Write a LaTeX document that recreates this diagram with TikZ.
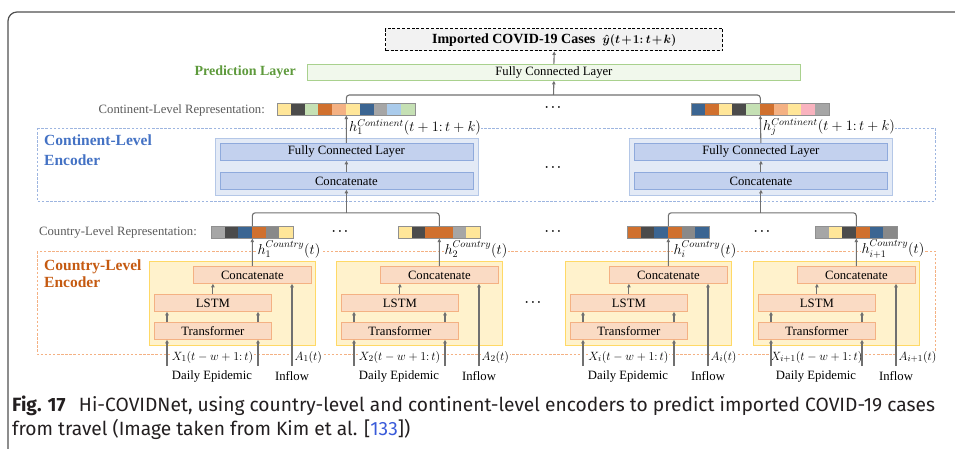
\documentclass[tikz,border=0pt]{standalone}
\usepackage{fontspec}
\setmainfont{Liberation Serif}
\newfontfamily\capfont{Fira Sans}
\usetikzlibrary{arrows.meta,calc}
\definecolor{lgray}{HTML}{707070}
\definecolor{framec}{HTML}{505050}
\definecolor{pgreen}{HTML}{F1F8EC}
\definecolor{pgreenb}{HTML}{A9D18E}
\definecolor{pgtext}{HTML}{5E9A3C}
\definecolor{topfill}{HTML}{F2F2F2}
\definecolor{cbluet}{HTML}{4472C4}
\definecolor{cblued}{HTML}{9DB5E0}
\definecolor{cblkfill}{HTML}{E3EAF6}
\definecolor{cblkdraw}{HTML}{B4C7E7}
\definecolor{cinfill}{HTML}{C3D1EE}
\definecolor{cindraw}{HTML}{8FAADC}
\definecolor{corant}{HTML}{C55A11}
\definecolor{coranged}{HTML}{F4B183}
\definecolor{yblkfill}{HTML}{FFF2CC}
\definecolor{yblkdraw}{HTML}{FFD966}
\definecolor{oinfill}{HTML}{FADBC4}
\definecolor{oindraw}{HTML}{F4B183}
\definecolor{reptext}{HTML}{595959}
\definecolor{bargray}{HTML}{909090}
\definecolor{cY}{HTML}{FFE699}
\definecolor{cDG}{HTML}{4B4B4B}
\definecolor{cLG}{HTML}{C5E0B4}
\definecolor{cO}{HTML}{D0702E}
\definecolor{cLO}{HTML}{F4B183}
\definecolor{cB}{HTML}{3B6592}
\definecolor{cG}{HTML}{A6A6A6}
\definecolor{cGt}{HTML}{898989}
\definecolor{cLB}{HTML}{AACBEB}
\definecolor{cPK}{HTML}{F9B3BF}
\definecolor{linkblue}{HTML}{3A5BD9}
\definecolor{captext}{HTML}{231F20}

\newcommand\mybar[6]{% name, x, y, n, cellwidth, colors
  \foreach \cc [count=\ii from 0] in {#6} {\fill[fill=\cc] (#2+\ii*#5,#3) rectangle ++(#5,12);}
  \pgfmathsetmacro\bw{#4*#5}
  \node[draw=bargray, line width=0.6pt, anchor=north west, inner sep=0, minimum width=\bw pt, minimum height=12pt] (#1) at (#2,#3) {};
}
\newcommand\bdots{{\boldmath$\cdots$}}

\newcommand\cblock[7]{% x0, suffix, Xlabel, Alabel, hlabel, colors
  \node[anchor=west, mlbl, fill=white, inner sep=0.3pt] (hl#2) at (#1+108,249) {#5};
  \node[cblk] (blk#2) at (#1,261) {};
  \node[ibox, minimum width=118pt] (cc#2) at (#1+44,266) {Concatenate};
  \node[ibox, minimum width=117pt] (ls#2) at (#1+5,294) {LSTM};
  \node[ibox, minimum width=117pt] (tr#2) at (#1+5,322) {Transformer};
  \node[xlbl, fill=white, inner sep=0.5pt] (xl#2) at (#1+63.5,357) {#3};
  \node[xlbl, fill=white, inner sep=0.5pt, anchor=west] (al#2) at (#1+145,357) {#4};
  \node[lbl] (de#2) at (#1+63,376) {Daily Epidemic};
  \node[lbl] (if#2) at (#1+143,376) {Inflow};
  \draw[arr] ($(tr#2.north west)+(13,0)$) -- ($(ls#2.south west)+(13,0)$);
  \draw[arr] ($(tr#2.north west)+(104,0)$) -- ($(ls#2.south west)+(104,0)$);
  \draw[arr] (ls#2.north) -- (ls#2.north |- cc#2.south);
  \coordinate (ina#2) at (#1+18,366);
  \coordinate (inb#2) at (#1+109,366);
  \coordinate (inf#2) at (#1+143,366);
  \draw[arr] (ina#2) -- (ina#2 |- tr#2.south);
  \draw[arr] (inb#2) -- (inb#2 |- tr#2.south);
  \draw[arr] (inf#2) -- (inf#2 |- cc#2.south);
  \mybar{ry#2}{#1+62}{226}{6}{13.667}{#6}
  \draw[arr] (cc#2.north) -- (ry#2.south);
}

\begin{document}
\begin{tikzpicture}[x=1pt,y=-1pt,
  lbl/.style={font=\fontsize{12.7}{14}\selectfont, text=black, inner sep=1pt},
  mlbl/.style={font=\fontsize{14}{15}\selectfont, text=black, inner sep=0pt},
  xlbl/.style={font=\fontsize{13.2}{15}\selectfont, text=black, inner sep=0pt},
  conl/.style={draw=lgray, line width=1.1pt},
  arr/.style={conl, -{Triangle[length=3.5pt,width=3.4pt]}},
  fdash/.style={dash pattern=on 2.5pt off 1.6pt, line width=0.9pt},
  ibox/.style={lbl, draw=oindraw, fill=oinfill, line width=0.8pt, anchor=north west, minimum height=17pt, inner sep=0},
  cblk/.style={draw=yblkdraw, fill=yblkfill, line width=0.8pt, anchor=north west, minimum width=166pt, minimum height=84pt, inner sep=0},
  bbox/.style={lbl, draw=cindraw, fill=cinfill, line width=0.8pt, anchor=north west, minimum width=253pt, minimum height=17pt, inner sep=0},
  bblk/.style={draw=cblkdraw, fill=cblkfill, line width=0.8pt, anchor=north west, minimum width=263pt, minimum height=57pt, inner sep=0},
  dots/.style={font=\fontsize{13}{14}\selectfont, inner sep=0}
]
\useasboundingbox (0,0) rectangle (955,449);
% frame
\draw[framec, line width=1.2pt, rounded corners=9pt] (8,460) -- (8,12) -- (965,12);

% top
\node[draw=black, dash pattern=on 3pt off 1.8pt, line width=1.4pt, fill=topfill, anchor=north west, minimum width=337pt, minimum height=22pt, inner sep=0,
  font=\fontsize{14}{15}\selectfont\bfseries] (top) at (385,28) {Imported COVID-19 Cases\ \ {\fontsize{13}{15}\selectfont\medmuskip=1.5mu\thickmuskip=2mu\boldmath$\hat{y}(t+1\colon t+k)$}};
\node[anchor=east, font=\fontsize{14}{16}\selectfont\bfseries, text=pgtext, inner sep=0] (plabel) at (296,72) {Prediction Layer};
\node[lbl, draw=pgreenb, fill=pgreen, line width=0.8pt, anchor=north west, minimum width=493pt, minimum height=16pt, inner sep=0] (pred) at (307,64) {Fully Connected Layer};
\draw[arr] (pred.north) -- (top.south);
\coordinate (pj) at (553.5,95);
\draw[arr] (pj) -- (pred.south);

% continent reps
\node[anchor=east, lbl, text=reptext] (crlab) at (266,110) {Continent-Level Representation:};
\mybar{cr1}{277}{103}{10}{13.8}{cY,cDG,cLG,cO,cLO,cY,cB,cG,cLB,cLG}
\mybar{crj}{691}{103}{10}{13.8}{cB,cO,cY,cDG,cLG,cO,cLO,cY,cPK,cG}
\draw[conl, rounded corners=3pt] (cr1.north) |- (pj) -| (crj.north);
\node[dots] (d1) at (553,108) {\bdots};

% continent encoder
\draw[cblued, fdash] (37,128) rectangle (935,201);
\node[anchor=west, mlbl, fill=white] (hc1) at (349,127) {$h_1^{Continent}(t+1\colon t+k)$};
\node[anchor=west, mlbl, fill=white] (hcj) at (763,127) {$h_j^{Continent}(t+1\colon t+k)$};
\node[anchor=north west, align=left, font=\fontsize{15.5}{20}\selectfont\bfseries, text=cbluet, inner sep=0] (celab) at (44,135) {Continent-Level\\Encoder};
\node[bblk] (cb1) at (214.5,138) {};
\node[bbox] (cf1) at (219.5,143) {Fully Connected Layer};
\node[bbox] (ccat1) at (219.5,172) {Concatenate};
\node[bblk] (cbj) at (629,138) {};
\node[bbox] (cfj) at (634,143) {Fully Connected Layer};
\node[bbox] (ccatj) at (634,172) {Concatenate};
\draw[arr] (cf1.north) -- (cr1.south);
\draw[arr] (cfj.north) -- (crj.south);
\draw[arr] (ccat1.north) -- (cf1.south);
\draw[arr] (ccatj.north) -- (cfj.south);
\node[dots] (d2) at (553,168) {\bdots};

% country encoder
\draw[coranged, fdash] (37,251) rectangle (935,354);
\node[anchor=north west, align=left, font=\fontsize{15.5}{17}\selectfont\bfseries, text=corant, inner sep=0] (yelab) at (44,260) {Country-Level\\Encoder};
\node[anchor=east, lbl, text=reptext] (yrlab) at (198,232) {Country-Level Representation:};

\cblock{149}{a}{$X_1(t-w+1\colon t)$}{$A_1(t)$}{$h_1^{Country}(t)$}{cG,cDG,cB,cO,cGt,cY}{}
\cblock{336}{b}{$X_2(t-w+1\colon t)$}{$A_2(t)$}{$h_2^{Country}(t)$}{cY,cDG,cO,cO,cG,cY}{}
\cblock{565}{c}{$X_i(t-w+1\colon t)$}{$A_i(t)$}{$h_i^{Country}(t)$}{cO,cDG,cB,cO,cGt,cB}{}
\cblock{753}{d}{$X_{i+1}(t-w+1\colon t)$}{$A_{i+1}(t)$}{$h_{i+1}^{Country}(t)$}{cG,cY,cDG,cO,cB,cGt}{}

% braces
\coordinate (bj1) at ($(ccat1.south)+(0,23)$);
\coordinate (bjj) at ($(ccatj.south)+(0,23)$);
\draw[conl, rounded corners=3pt] (rya.north) |- (bj1) -| (ryb.north);
\draw[conl, rounded corners=3pt] (ryc.north) |- (bjj) -| (ryd.north);
\draw[arr] (bj1) -- (ccat1.south);
\draw[arr] (bjj) -- (ccatj.south);

\node[dots] (d3) at (340,232) {\bdots};
\node[dots] (d4) at (553,232) {\bdots};
\node[dots] (d5) at (762,232) {\bdots};
\node[dots] (d6) at (533,303) {\bdots};

% caption
\node[anchor=base west, inner sep=0, text=captext, font=\capfont\fontsize{19.2}{22}\selectfont] (cap1) at (12,411) {\textbf{Fig. 17}\hspace{0.7em}Hi-COVIDNet, using country-level and continent-level encoders to predict imported COVID-19 cases};
\node[anchor=base west, inner sep=0, text=captext, font=\capfont\fontsize{19.2}{22}\selectfont] (cap2) at (12,435) {from travel (Image taken from Kim et al. [\textcolor{linkblue}{133}])};
\end{tikzpicture}
\end{document}
